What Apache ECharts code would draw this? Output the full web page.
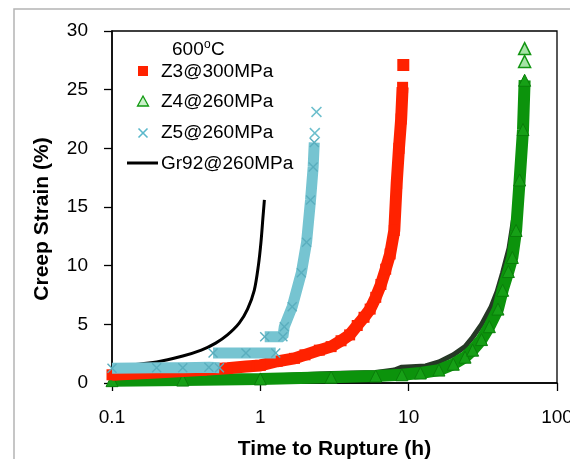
<!DOCTYPE html>
<html>
<head>
<meta charset="utf-8">
<script src="https://cdn.jsdelivr.net/npm/echarts@6/dist/echarts.min.js"></script>
<style>
html,body{margin:0;padding:0;background:#fff;overflow:hidden;width:570px;height:459px;}
#c{width:570px;height:459px;overflow:hidden;}
</style>
</head>
<body>
<div id="c"></div>
<script>
// ---- data ----
const xTicks = [0.1, 1, 10, 100];
const yTicks = [0, 5, 10, 15, 20, 25, 30];
const seriesNames = ['Z3@300MPa', 'Z4@260MPa', 'Z5@260MPa', 'Gr92@260MPa'];

const z3Time   = [0.1, 0.2, 0.4, 0.6, 0.8, 1.0, 1.3, 1.7, 2.0, 2.5, 3.0, 3.5, 4.0, 4.5, 5.0, 5.5, 6.0, 6.5, 7.0, 7.5, 8.0, 8.3, 8.6, 8.9, 9.1];
const z3Strain = [0.7, 0.9, 1.1, 1.25, 1.4, 1.5, 1.85, 2.1, 2.4, 2.8, 3.1, 3.6, 4.1, 4.9, 5.6, 6.3, 7.3, 8.4, 9.7, 11.0, 13.0, 17.0, 20.0, 22.5, 25.2];
const z3EndTime = [9.2];
const z3EndStrain = [27.1];

const z4Time   = [0.1, 0.3, 1, 3, 6, 9, 12, 16, 20, 24, 27, 31, 35, 40, 43, 47, 50, 53, 56, 59, 60.5];
const z4Strain = [0.2, 0.25, 0.35, 0.5, 0.6, 0.7, 0.85, 1.1, 1.6, 2.2, 2.8, 3.7, 4.8, 6.3, 7.9, 9.5, 10.7, 13.0, 17.3, 21.6, 25.8];
const z4EndTime = [60.5, 60.5];
const z4EndStrain = [27.4, 28.5];

// dark points lying along the upper-left edge of the Z4 band
const darkTime   = [0.1, 1, 3, 6, 8, 9, 13, 16, 20, 24, 27, 31, 36, 39.5, 43, 47.5, 51];
const darkStrain = [0.45, 0.55, 0.8, 0.9, 1.1, 1.35, 1.45, 1.8, 2.4, 3.1, 3.9, 5.0, 6.5, 7.8, 9.4, 11.5, 14.0];

const z5Time   = [0.1, 0.2, 0.3, 0.45, 0.53, null, 0.48, 0.8, 1.27, null, 1.07, 1.42, 1.45, 1.64, 1.89, 2.05, 2.18, 2.27, 2.31];
const z5Strain = [1.25, 1.3, 1.3, 1.35, 1.3, null, 2.55, 2.55, 2.55, null, 3.95, 3.95, 4.8, 6.5, 9.4, 12.0, 15.6, 18.4, 20.5];
const z5EndTime = [2.33, 2.39];
const z5EndStrain = [21.3, 23.1];

const gr92Time   = [0.1, 0.2, 0.3, 0.4, 0.5, 0.6, 0.72, 0.82, 0.91, 0.97, 1.01, 1.04, 1.065];
const gr92Strain = [1.4, 1.8, 2.3, 2.8, 3.4, 4.1, 5.1, 6.3, 7.9, 10.0, 12.0, 14.0, 15.6];

// ---- helpers ----
function pairs(xs, ys) {
  return xs.map((x, i) => (x === null || ys[i] === null) ? [NaN, '-'] : [x, ys[i]]);
}
const FONT = 'Liberation Sans';
const xShape = 'path://M0,1L1,0L5,4L9,0L10,1L6,5L10,9L9,10L5,6L1,10L0,9L4,5Z';

const RED = '#ff2200';
const GREEN = '#0c930c';
const CYAN = '#76c4d1';

const chart = echarts.init(document.getElementById('c'), null, {renderer: 'canvas', width: 570, height: 459});
chart.setOption({
  animation: false,
  backgroundColor: '#fff',
  textStyle: {fontFamily: FONT},
  grid: {left: 112, right: 13, top: 31, bottom: 76, show: true, borderColor: '#000', borderWidth: 1.3,
         containLabel: false, outerBoundsMode: 'none'},
  xAxis: {
    type: 'log', logBase: 10, min: xTicks[0], max: xTicks[xTicks.length - 1],
    name: 'Time to Rupture (h)', nameLocation: 'middle', nameGap: 56,
    nameTextStyle: {fontFamily: FONT, fontSize: 21, fontWeight: 'bold', color: '#000'},
    axisLine: {lineStyle: {color: '#000', width: 1.5}},
    axisTick: {show: true, length: 8, lineStyle: {color: '#000', width: 1.3}},
    minorTick: {show: false},
    splitLine: {show: false},
    axisLabel: {fontFamily: FONT, fontSize: 19, color: '#000', margin: 25, hideOverlap: false,
      formatter: v => { const t = xTicks.find(k => Math.abs(k - v) / k < 1e-6); return t === undefined ? '' : String(t); }}
  },
  yAxis: {
    type: 'value', min: yTicks[0], max: yTicks[yTicks.length - 1], interval: 5,
    axisLine: {show: true, lineStyle: {color: '#000', width: 1.5}},
    axisTick: {show: true, length: 8, lineStyle: {color: '#000', width: 1.3}},
    splitLine: {show: false},
    axisLabel: {fontFamily: FONT, fontSize: 19, color: '#000', margin: 24}
  },
  series: [
    {type: 'line', name: 'dark', data: pairs(darkTime, darkStrain), showSymbol: false, symbol: 'none',
     lineStyle: {color: '#263826', width: 5}, z: 1},
    {type: 'line', name: seriesNames[1], data: pairs(z4Time, z4Strain), symbol: 'triangle', symbolSize: 12, showAllSymbol: true,
     itemStyle: {color: '#16a016', borderColor: '#0a7d0a', borderWidth: 1}, lineStyle: {color: GREEN, width: 12}, z: 2},
    {type: 'line', name: seriesNames[1], data: pairs(z4EndTime, z4EndStrain), symbol: 'triangle', symbolSize: 12,
     itemStyle: {color: '#a6e3a6', borderColor: '#129512', borderWidth: 1.5}, lineStyle: {width: 0, opacity: 0}, z: 2},
    {type: 'line', name: seriesNames[0], data: pairs(z3Time, z3Strain), symbol: 'rect', symbolSize: 11, showAllSymbol: true,
     itemStyle: {color: RED}, lineStyle: {color: RED, width: 12}, z: 3},
    {type: 'line', name: seriesNames[0], data: pairs(z3EndTime, z3EndStrain), symbol: 'rect', symbolSize: 12,
     itemStyle: {color: RED}, lineStyle: {width: 0, opacity: 0}, z: 3},
    {type: 'line', name: seriesNames[3], data: pairs(gr92Time, gr92Strain), showSymbol: false, symbol: 'none', smooth: 0.3,
     lineStyle: {color: '#000', width: 3}, z: 4},
    {type: 'line', name: seriesNames[2], data: pairs(z5Time, z5Strain), symbol: xShape, symbolSize: 10, showAllSymbol: true, connectNulls: false,
     itemStyle: {color: '#5aaebe'}, lineStyle: {color: CYAN, width: 11}, z: 5},
    {type: 'line', name: seriesNames[2], data: pairs(z5EndTime, z5EndStrain), symbol: xShape, symbolSize: 11,
     itemStyle: {color: '#6dbfcd'}, lineStyle: {width: 0, opacity: 0}, z: 5}
  ],
  graphic: [
    {type: 'rect', shape: {x: 14, y: 9, width: 600, height: 500}, style: {fill: 'none', stroke: '#b4b4b4', lineWidth: 1.5}, z: 0, silent: true},
    {type: 'text', x: 42, y: 219, rotation: Math.PI / 2,
     style: {text: 'Creep Strain (%)', fontFamily: FONT, fontSize: 21, fontWeight: 'bold', fill: '#000', textAlign: 'center', textVerticalAlign: 'middle'}},
    // legend title 600ºC
    {type: 'text', x: 172, y: 50, style: {text: '600', fontFamily: FONT, fontSize: 19, fill: '#000', textVerticalAlign: 'middle'}},
    {type: 'text', x: 204, y: 45, style: {text: 'o', fontFamily: FONT, fontSize: 12, fill: '#000', textVerticalAlign: 'middle'}},
    {type: 'text', x: 211, y: 50, style: {text: 'C', fontFamily: FONT, fontSize: 19, fill: '#000', textVerticalAlign: 'middle'}},
    // legend entries
    {type: 'rect', shape: {x: 138, y: 66, width: 10, height: 10}, style: {fill: RED}},
    {type: 'text', x: 161, y: 72, style: {text: seriesNames[0], fontFamily: FONT, fontSize: 19, fill: '#000', textVerticalAlign: 'middle'}},
    {type: 'polygon', shape: {points: [[143, 96], [148.5, 106], [137.5, 106]]}, style: {fill: '#c9f0c9', stroke: '#119911', lineWidth: 1.3}},
    {type: 'text', x: 161, y: 102, style: {text: seriesNames[1], fontFamily: FONT, fontSize: 19, fill: '#000', textVerticalAlign: 'middle'}},
    {type: 'polyline', shape: {points: [[138.5, 128.5], [147.5, 137.5]]}, style: {stroke: '#5ab8cb', lineWidth: 1.6}},
    {type: 'polyline', shape: {points: [[147.5, 128.5], [138.5, 137.5]]}, style: {stroke: '#5ab8cb', lineWidth: 1.6}},
    {type: 'text', x: 161, y: 133, style: {text: seriesNames[2], fontFamily: FONT, fontSize: 19, fill: '#000', textVerticalAlign: 'middle'}},
    {type: 'line', shape: {x1: 127, y1: 163, x2: 158, y2: 163}, style: {stroke: '#000', lineWidth: 3}},
    {type: 'text', x: 161, y: 164, style: {text: seriesNames[3], fontFamily: FONT, fontSize: 19, fill: '#000', textVerticalAlign: 'middle'}}
  ]
});
</script>
</body>
</html>
